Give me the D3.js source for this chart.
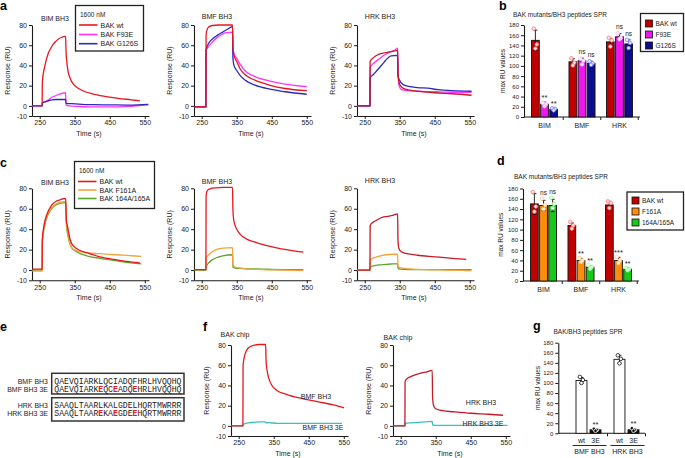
<!DOCTYPE html>
<html><head><meta charset="utf-8">
<script src="https://cdn.jsdelivr.net/npm/d3@7"></script>
<style>
body{margin:0;background:#fff;}
svg{display:block;}
</style></head><body>
<svg id="fig" width="685" height="458"></svg>
<script>
// ---------------- DATA ----------------
const timeTicks = [250, 350, 450, 550];
const respTicks = [-10, 0, 20, 40, 60, 80];
const ruTicks = [0, 20, 40, 60, 80, 100, 120, 140, 160, 180];
const timeDomain = [228, 562];

// Panel a (BAK wt / F93E / G126S at 1600 nM)
const a_BIM_wt = [[229,0.3],[257,0.3],[257.5,24],[265,40],[274,51.5],[284,58.5],[294,63.2],[303,66],[313,67.9],[322,68.8],[324,68.8],[325,55],[327,45],[331,34],[336,28],[346,21.5],[360,17.5],[380,14],[400,12],[436,9.5],[474,7.5],[512,6],[536,5]];
const a_BIM_F93E = [[229,0],[257,0],[257.5,3],[265,4],[275,6],[285,8.5],[295,10],[305,11.5],[315,12.5],[324,13],[325,1],[335,0],[360,-0.5],[400,-1],[450,-1],[500,-0.5],[540,0.5],[560,1]];
const a_BIM_G126S = [[229,0],[257,0],[257.5,3],[265,4],[275,5],[285,6],[295,6.3],[310,6.3],[324,6.3],[325,2.5],[340,2.2],[370,1.5],[400,1.2],[450,1],[500,0.8],[530,1],[560,1.5]];

const a_BMF_wt = [[229,-1],[262,-1],[262.5,70],[265,75],[270,78],[280,79.5],[300,80],[320,80],[338,80],[339,60],[342,50],[350,44],[359,37],[376,30.3],[402,25.4],[445,20.4],[488,17.2],[550,15]];
const a_BMF_F93E = [[229,-1],[262,-1],[262.5,55],[268,58],[280,63],[295,68],[310,71],[320,72.5],[338,73],[339,58],[342,52],[350,47],[360,41],[376,34],[402,29],[445,24.5],[488,21.5],[550,19]];
const a_BMF_G126S = [[229,-1],[262,-1],[262.5,55],[270,62],[280,66],[295,70],[310,73],[325,76],[338,78.5],[339,48],[342,40],[350,35],[360,30],[376,25],[402,20.5],[445,16.5],[488,14],[550,11.5]];

const a_HRK_wt = [[229,0],[265,0],[265.5,44],[270,46],[280,49],[290,51],[300,52],[315,53],[330,54],[344,55],[345,35],[347,25],[352,20],[362,17],[380,15.5],[400,14.5],[450,13],[500,12],[555,10.5]];
const a_HRK_F93E = [[229,0],[265,0],[265.5,38],[275,42],[290,46],[305,50],[320,53],[335,55],[344,57],[345,35],[348,20],[355,16],[370,15],[400,14.5],[450,14],[500,13.5],[555,13.5]];
const a_HRK_G126S = [[229,0],[265,0],[265.5,28],[275,31],[285,35],[295,39],[305,43],[315,47],[325,49.5],[344,50],[345,30],[350,25],[360,21],[380,19],[400,18],[430,17.5],[460,16],[500,15],[555,14.5]];

// Panel c (BAK wt / F161A / 164A/165A)
const c_BIM_wt = [[229,1],[257,1],[257.5,30],[263,45],[270,54],[284,63.5],[298,67.5],[310,69],[322,70],[324,69.5],[326,50],[331,40],[336,31],[341,26],[355,21],[384,17],[422,13],[470,10],[510,8],[536,7]];
const c_BIM_F161A = [[229,-1],[257,-1],[257.5,28],[263,43],[270,52],[284,61],[298,65],[310,66.5],[322,67],[324,66.5],[326,48],[331,35],[336,27],[341,22],[355,19],[384,17],[422,16],[470,15],[510,14],[540,13.5]];
const c_BIM_164A165A = [[229,0],[257,0],[257.5,27],[263,42],[270,51],[284,60],[298,64],[310,65.5],[322,66],[324,65.5],[326,45],[331,33],[336,26],[341,22],[355,18],[384,14],[422,11.5],[470,9],[510,7],[540,6]];

const c_BMF_wt = [[229,0.5],[262,0.5],[262.5,72],[265,77],[270,79],[290,80.5],[310,81],[338,81],[339,60],[341,50],[345,44],[350,40],[360,35],[380,30],[400,27.5],[430,24.5],[460,22],[500,19.5],[540,17.5]];
const c_BMF_F161A = [[229,0.5],[262,0.5],[262.5,12],[270,15],[280,18],[295,20.5],[310,21.5],[338,22],[339,5],[345,3],[370,1.5],[420,0.5],[480,0],[540,-0.5]];
const c_BMF_164A165A = [[229,0],[262,0],[262.5,3],[270,7],[280,10],[295,12.5],[310,14],[338,15],[339,3],[345,2],[370,1.5],[420,1],[480,0.5],[540,0.5]];

const c_HRK_wt = [[229,0],[265,0],[265.5,43],[268,45],[280,48],[290,50],[300,51.5],[315,52.5],[330,53.5],[344,55],[345,30],[347,22],[351,19],[360,17],[380,15.5],[400,14.5],[450,13],[500,11.5],[540,10.5]];
const c_HRK_F161A = [[229,0],[265,0],[265.5,9],[270,11],[280,12.5],[295,14],[310,15],[330,15.5],[344,15.5],[345,4],[350,2.5],[370,1.5],[420,0.5],[480,0],[555,-0.5]];
const c_HRK_164A165A = [[229,0],[265,0],[265.5,3],[275,4],[290,5],[310,5.5],[330,6],[344,6],[345,2],[350,1],[400,0.5],[480,0.5],[555,0.5]];

// Panel f (BAK chip)
const f_BMF_wt = [[229,0],[262,0],[262.5,60],[268,71],[277,77],[292,79.7],[310,80.5],[327,80.7],[328,65],[331,55],[335,48],[345,40],[359,35],[388,31],[426,27.5],[474,24],[521,20.7],[551,17.7]];
const f_BMF_3E = [[229,0],[262,0],[262.5,1.5],[270,2.5],[290,3.5],[310,4],[327,4],[328,3],[335,3.2],[360,2.5],[420,2.5],[480,2.5],[545,2.5]];
const f_HRK_wt = [[229,0],[262,0],[262.5,44],[266,46],[280,49],[295,51],[310,52.5],[325,53.5],[340,55],[341,28],[344,20],[350,17],[370,15],[400,14],[450,12.5],[500,11.5],[542,10.5]];
const f_HRK_3E = [[229,0],[262,0],[262.5,2.5],[280,3],[300,3.5],[320,4],[340,4.5],[341,1],[350,0.5],[400,0.5],[450,0.5],[555,0.5]];

// Panel b (max RU, BAK mutants)
const barGroups = ["BIM", "BMF", "HRK"];
const b_wt = [150, 108, 147],  b_wt_err = [20, 6, 7];
const b_F93E = [25, 110, 157], b_F93E_err = [4, 5, 6];
const b_G126S = [15, 105, 143], b_G126S_err = [3, 4, 8];
const b_wt_pts = [[173, 142, 134], [115, 106, 101], [155, 150, 138]];
const b_F93E_pts = [[27, 25, 21], [114, 110, 103], [164, 155, 152]];
const b_G126S_pts = [[17, 16, 13], [109, 105, 102], [151, 145, 135]];
const b_stars = [["", "", ""], ["**", "ns", "ns"], ["**", "ns", "ns"]];

// Panel d
const d_wt = [150, 108, 148],  d_wt_err = [20, 5, 7];
const d_F161A = [147, 40, 40], d_F161A_err = [10, 4, 6];
const d_164A165A = [147, 27, 23], d_164A165A_err = [12, 3, 3];
const d_wt_pts = [[173, 145, 135], [115, 108, 102], [155, 152, 142]];
const d_F161A_pts = [[160, 148, 140], [45, 40, 37], [47, 40, 35]];
const d_164A165A_pts = [[162, 150, 142], [31, 27, 24], [26, 23, 21]];
const d_stars = [["", "", ""], ["ns", "**", "***"], ["ns", "**", "**"]];

// Panel g
const gGroups = ["BMF BH3", "HRK BH3"];
const g_wt = [105, 147], g_wt_err = [6, 8];
const g_3E = [7, 7], g_3E_err = [2, 2];
const g_wt_pts = [[112, 106, 100], [155, 148, 139]];
const g_3E_pts = [[9, 7, 5], [10, 7, 5]];
const g_stars = [["", ""], ["**", "**"]];

// Panel e sequences
const seqLabels = ["BMF BH3", "BMF BH3 3E", "HRK BH3", "HRK BH3 3E"];
const seqs = ["QAEVQIARKLQCIADQFHRLHVQQHQ", "QAEVQIARKEQCEADQEHRLHVQQHQ",
              "SAAQLTAARLKALGDELHQRTMWRRR", "SAAQLTAAREKAEGDEEHQRTMWRRR"];
const mutPos = [9, 12, 16];

// ---------------- DRAW ----------------
const FONT = 'Arial, "Liberation Sans", Helvetica, sans-serif';
const svg = d3.select('#fig').attr('font-family', FONT);
const traceW = 117;

function styleAxis(sel, fs) {
  sel.attr('font-size', fs).attr('font-family', FONT);
  sel.select('.domain').attr('stroke', '#1a1a1a').attr('stroke-width', 1.1);
  sel.selectAll('.tick line').attr('stroke', '#1a1a1a').attr('stroke-width', 1);
  sel.selectAll('.tick text').attr('fill', '#222');
}
function txt(g, x, y, s, fs, anchor, extra) {
  const t = g.append('text').attr('x', x).attr('y', y).attr('font-size', fs)
    .attr('text-anchor', anchor || 'start').attr('fill', '#222').text(s);
  if (extra) extra(t);
  return t;
}

function traceChart(cfg) {
  const g = svg.append('g');
  const x = d3.scaleLinear().domain(timeDomain).range([cfg.x0, cfg.x0 + traceW]);
  const y = d3.scaleLinear().domain([-10, 80]).range([cfg.yBot, cfg.yTop]);
  styleAxis(g.append('g').attr('transform', `translate(${cfg.x0},0)`)
    .call(d3.axisLeft(y).tickValues(respTicks).tickFormat(d => String(d)).tickSize(3).tickSizeOuter(0).tickPadding(2)), 7);
  styleAxis(g.append('g').attr('transform', `translate(0,${cfg.yBot})`)
    .call(d3.axisBottom(x).tickValues(timeTicks).tickFormat(d => String(d)).tickSize(3).tickSizeOuter(0).tickPadding(1.5)), 7);
  const line = d3.line().x(d => x(d[0])).y(d => y(d[1])).curve(d3.curveMonotoneX);
  cfg.series.forEach(s => g.append('path').datum(s.data).attr('d', line)
    .attr('fill', 'none').attr('stroke', s.color).attr('stroke-width', 1.3).attr('stroke-linejoin', 'round'));
  txt(g, cfg.x0 + (cfg.titleDx == null ? 23 : cfg.titleDx), cfg.titleY, cfg.title, 7, 'middle');
  g.append('text').attr('transform', `translate(${cfg.x0 - 22},${(cfg.yTop + cfg.yBot) / 2}) rotate(-90)`)
    .attr('text-anchor', 'middle').attr('font-size', 7).attr('fill', '#222').text('Response (RU)');
  txt(g, cfg.x0 + 57, cfg.yBot + 19.5, 'Time (s)', 7, 'middle');
  (cfg.notes || []).forEach(n => txt(g, n[0], n[1], n[2], 7, 'middle'));
  return g;
}

function traceLegend(bx, by, bw, bh, header, itemsY, names, colors) {
  const g = svg.append('g');
  g.append('rect').attr('x', bx).attr('y', by).attr('width', bw).attr('height', bh)
    .attr('fill', '#fff').attr('stroke', '#222').attr('stroke-width', 1.3);
  txt(g, bx + 4.5, by + 11, header, 6.5);
  names.forEach((n, i) => {
    g.append('line').attr('x1', bx + 3.5).attr('x2', bx + 22).attr('y1', itemsY[i]).attr('y2', itemsY[i])
      .attr('stroke', colors[i]).attr('stroke-width', 1.6);
    txt(g, bx + 25, itemsY[i] + 2.5, n, 7);
  });
}

function barChart(cfg) {
  const g = svg.append('g');
  const y = d3.scaleLinear().domain([0, 180]).range([cfg.yZero, cfg.yTop]);
  const xg = d3.scaleBand().domain(cfg.groups).range([cfg.x0, cfg.x1]).paddingInner(cfg.pi).paddingOuter(cfg.po);
  const xs = d3.scaleBand().domain(cfg.series.map(s => s.name)).range([0, xg.bandwidth()]).paddingInner(cfg.si);
  styleAxis(g.append('g').attr('transform', `translate(${cfg.x0},0)`)
    .call(d3.axisLeft(y).tickValues(ruTicks).tickSize(3).tickSizeOuter(0).tickPadding(2)), 6);
  g.append('line').attr('x1', cfg.x0).attr('x2', cfg.xEnd).attr('y1', cfg.yZero).attr('y2', cfg.yZero)
    .attr('stroke', '#1a1a1a').attr('stroke-width', 1.1);
  cfg.groups.forEach(gr => {
    const tx = xg(gr) + xg.bandwidth() + xg.step() * cfg.pi / 2;
    g.append('line').attr('x1', tx).attr('x2', tx).attr('y1', cfg.yZero).attr('y2', cfg.yZero + 3)
      .attr('stroke', '#1a1a1a').attr('stroke-width', 1);
  });
  const dx = [-1.6, 1.4, 0];
  cfg.series.forEach((s, si) => {
    cfg.groups.forEach((gr, gi) => {
      const bx = xg(gr) + xs(s.name), bw = xs.bandwidth(), m = s.means[gi], e = s.errs[gi];
      const cx = bx + bw / 2;
      g.append('rect').attr('x', bx).attr('y', y(m)).attr('width', bw).attr('height', cfg.yZero - y(m))
        .attr('fill', s.color).attr('stroke', '#111').attr('stroke-width', 0.9);
      g.append('line').attr('x1', cx).attr('x2', cx).attr('y1', y(m - e)).attr('y2', y(m + e)).attr('stroke', '#111').attr('stroke-width', 0.9);
      [m - e, m + e].forEach(v => g.append('line').attr('x1', cx - 2).attr('x2', cx + 2).attr('y1', y(v)).attr('y2', y(v)).attr('stroke', '#111').attr('stroke-width', 0.9));
      s.pts[gi].forEach((v, k) => g.append('circle').attr('cx', cx + dx[k]).attr('cy', y(v)).attr('r', 1.8)
        .attr('fill', s.dotFill).attr('stroke', s.dotColor).attr('stroke-width', 0.8));
      const st = cfg.stars[si][gi];
      if (st) {
        const top = Math.max(m + e, d3.max(s.pts[gi]));
        txt(g, cx, y(top) - (st === 'ns' ? 4 : 2), st, st === 'ns' ? 6.5 : 7.5, 'middle');
      }
    });
  });
  if (cfg.groupLabels) cfg.groups.forEach(gr => txt(g, xg(gr) + xg.bandwidth() / 2, cfg.yZero + 10.5, gr, 7, 'middle'));
  txt(g, cfg.titleX, cfg.titleY, cfg.title, 6.5, 'middle');
  g.append('text').attr('transform', `translate(${cfg.ylabX},${(cfg.yTop + cfg.yZero) / 2}) rotate(-90)`)
    .attr('text-anchor', 'middle').attr('font-size', 6.5).attr('fill', '#222').text('max RU values');
  return { g, xg, xs, y };
}

function barLegend(bx, by, bw, bh, itemsY, names, colors) {
  const g = svg.append('g');
  g.append('rect').attr('x', bx).attr('y', by).attr('width', bw).attr('height', bh)
    .attr('fill', '#fff').attr('stroke', '#222').attr('stroke-width', 1.3);
  names.forEach((n, i) => {
    g.append('rect').attr('x', bx + 5).attr('y', itemsY[i] - 3.5).attr('width', 7).attr('height', 7)
      .attr('fill', colors[i]).attr('stroke', '#111').attr('stroke-width', 0.8);
    txt(g, bx + 15, itemsY[i] + 2.4, n, 6.5);
  });
}

// panel letters
[['a', 0, 10], ['b', 499, 10], ['c', 0, 167], ['d', 497, 165], ['e', 0, 331], ['f', 203, 331], ['g', 533, 330]]
  .forEach(p => svg.append('text').attr('x', p[1]).attr('y', p[2]).attr('font-size', 12.5).attr('font-weight', 'bold').text(p[0]));

// colours
const RED = '#e8161d', MAG = '#ff33ff', BLUE = '#2a2ac0', DRED = '#c41a2a';
const ORA = '#f7a23b', GRN = '#5ea52e', TEAL = '#3cbfbf';

// ---- Row 1: panel a ----
traceChart({ x0: 32, yTop: 25, yBot: 116, titleY: 20.5, title: 'BIM BH3',
  series: [{ data: a_BIM_F93E, color: MAG }, { data: a_BIM_G126S, color: BLUE }, { data: a_BIM_wt, color: RED }] });
traceChart({ x0: 194, yTop: 25, yBot: 116, titleY: 18.5, title: 'BMF BH3',
  series: [{ data: a_BMF_F93E, color: MAG }, { data: a_BMF_G126S, color: BLUE }, { data: a_BMF_wt, color: RED }] });
traceChart({ x0: 357, yTop: 25, yBot: 116, titleY: 18.5, title: 'HRK BH3',
  series: [{ data: a_HRK_F93E, color: MAG }, { data: a_HRK_G126S, color: BLUE }, { data: a_HRK_wt, color: DRED }] });
traceLegend(75.5, 5.5, 68, 45.5, '1600 nM', [25, 34.5, 43.7], ['BAK wt', 'BAK F93E', 'BAK G126S'], [RED, MAG, BLUE]);

// panel b
barChart({ x0: 524, x1: 640, xEnd: 640, yZero: 117, yTop: 25, pi: 0.305, po: 0.2, si: 0.15,
  groups: barGroups, groupLabels: true, title: 'BAK mutants/BH3 peptides SPR', titleX: 560, titleY: 16.5, ylabX: 504.5,
  stars: b_stars,
  series: [
    { name: 'BAK wt', color: '#c00000', means: b_wt, errs: b_wt_err, pts: b_wt_pts, dotColor: '#ff7a7a', dotFill: '#ffe0e0' },
    { name: 'F93E', color: '#ee18ee', means: b_F93E, errs: b_F93E_err, pts: b_F93E_pts, dotColor: '#ffb0ff', dotFill: '#fff0ff' },
    { name: 'G126S', color: '#0c0c8c', means: b_G126S, errs: b_G126S_err, pts: b_G126S_pts, dotColor: '#7a7aff', dotFill: '#e8e8ff' }] });
barLegend(640.5, 13.5, 43, 38, [23.5, 34.5, 45.5], ['BAK wt', 'F93E', 'G126S'], ['#c00000', '#ee18ee', '#0c0c8c']);

// ---- Row 2: panel c ----
traceChart({ x0: 32, yTop: 188.3, yBot: 280.3, titleY: 185, title: 'BIM BH3',
  series: [{ data: c_BIM_164A165A, color: GRN }, { data: c_BIM_F161A, color: ORA }, { data: c_BIM_wt, color: RED }] });
traceChart({ x0: 194, yTop: 188.3, yBot: 280.3, titleY: 183.5, title: 'BMF BH3',
  series: [{ data: c_BMF_164A165A, color: GRN }, { data: c_BMF_F161A, color: ORA }, { data: c_BMF_wt, color: RED }] });
traceChart({ x0: 357, yTop: 188.3, yBot: 280.3, titleY: 182.5, title: 'HRK BH3',
  series: [{ data: c_HRK_164A165A, color: GRN }, { data: c_HRK_F161A, color: ORA }, { data: c_HRK_wt, color: DRED }] });
traceLegend(74.5, 161.5, 80, 47, '1600 nM', [181.5, 190, 198.5], ['BAK wt', 'BAK F161A', 'BAK 164A/165A'], [RED, ORA, GRN]);

// panel d
barChart({ x0: 523, x1: 639, xEnd: 639, yZero: 281, yTop: 188.5, pi: 0.305, po: 0.2, si: 0.15,
  groups: barGroups, groupLabels: true, title: 'BAK mutants/BH3 peptides SPR', titleX: 561, titleY: 179, ylabX: 502.5,
  stars: d_stars,
  series: [
    { name: 'BAK wt', color: '#c00000', means: d_wt, errs: d_wt_err, pts: d_wt_pts, dotColor: '#ff7a7a', dotFill: '#ffe0e0' },
    { name: 'F161A', color: '#ff8c0a', means: d_F161A, errs: d_F161A_err, pts: d_F161A_pts, dotColor: '#ffd090', dotFill: '#fff3e0' },
    { name: '164A/165A', color: '#18c818', means: d_164A165A, errs: d_164A165A_err, pts: d_164A165A_pts, dotColor: '#a0ffa0', dotFill: '#eaffea' }] });
barLegend(627, 192, 56.5, 38, [200.5, 211.5, 222.5], ['BAK wt', 'F161A', '164A/165A'], ['#c00000', '#ff8c0a', '#18c818']);

// ---- Row 3: panel e ----
(function () {
  const g = svg.append('g');
  [[51.7, 373.3, 132.3, 20.7], [51.7, 397.7, 132.3, 23.3]].forEach(b =>
    g.append('rect').attr('x', b[0]).attr('y', b[1]).attr('width', b[2]).attr('height', b[3])
      .attr('fill', 'none').attr('stroke', '#333').attr('stroke-width', 1.5));
  const ys = [383.5, 391.5, 408, 416.2];
  seqLabels.forEach((l, i) => {
    txt(g, 48, ys[i], l, 7, 'end');
    const t = g.append('text').attr('x', 54.3).attr('y', ys[i]).attr('font-size', 8.15)
      .attr('font-family', '"Courier New", "Liberation Mono", monospace').attr('fill', '#222');
    seqs[i].split('').forEach((ch, k) => {
      const isMut = (i % 2 === 1) && mutPos.includes(k);
      t.append('tspan').attr('fill', isMut ? '#e8161d' : '#222').attr('font-weight', isMut ? 'bold' : null).text(ch);
    });
  });
})();

// panel f
traceChart({ x0: 231, yTop: 345, yBot: 436, titleY: 336.5, titleDx: 4, title: 'BAK chip',
  series: [{ data: f_BMF_3E, color: TEAL }, { data: f_BMF_wt, color: RED }],
  notes: [[316, 398.5, 'BMF BH3'], [323, 430, 'BMF BH3 3E']] });
traceChart({ x0: 393, yTop: 345, yBot: 436, titleY: 339.5, titleDx: 5, title: 'BAK chip',
  series: [{ data: f_HRK_3E, color: TEAL }, { data: f_HRK_wt, color: DRED }],
  notes: [[481, 405, 'HRK BH3'], [483, 425.5, 'HRK BH3 3E']] });

// panel g
(function () {
  const r = barChart({ x0: 558.3, x1: 656.7, xEnd: 645, yZero: 433.3, yTop: 342.7, pi: 0.342, po: 0.466, si: 0.22,
    groups: gGroups, groupLabels: false, title: 'BAK/BH3 peptides SPR', titleX: 588, titleY: 334, ylabX: 540,
    stars: g_stars,
    series: [
      { name: 'wt', color: '#ffffff', means: g_wt, errs: g_wt_err, pts: g_wt_pts, dotColor: '#111', dotFill: '#fff' },
      { name: '3E', color: '#111111', means: g_3E, errs: g_3E_err, pts: g_3E_pts, dotColor: '#fff', dotFill: '#111' }] });
  gGroups.forEach(gr => {
    ['wt', '3E'].forEach(s => txt(r.g, r.xg(gr) + r.xs(s) + r.xs.bandwidth() / 2, 443, s, 7, 'middle'));
    r.g.append('line').attr('x1', r.xg(gr) - 3.5).attr('x2', r.xg(gr) + r.xg.bandwidth() + 5.5)
      .attr('y1', 445.5).attr('y2', 445.5).attr('stroke', '#111').attr('stroke-width', 0.9);
    txt(r.g, r.xg(gr) + r.xg.bandwidth() / 2 + 1, 454, gr, 7, 'middle');
  });
})();
</script></body></html>
